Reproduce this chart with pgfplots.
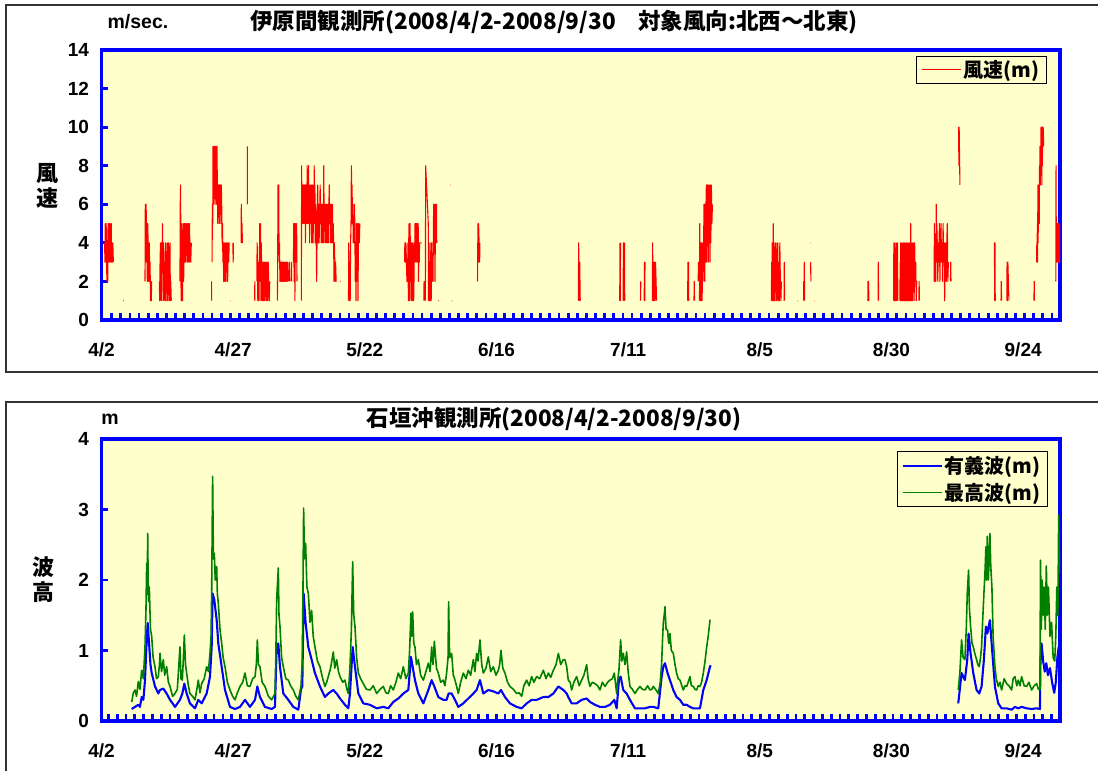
\documentclass[border=0pt]{standalone}
\usepackage{fontspec}
\setmainfont{Liberation Sans}
\newfontfamily\jp{Noto Sans CJK JP}
\usepackage{pgfplots}
\pgfplotsset{compat=1.18}
\definecolor{bgy}{RGB}{255,255,204}
\definecolor{dgreen}{RGB}{0,128,0}
\pgfplotsset{myax/.style={
  scale only axis, width=958.5pt, anchor=south west,
  xmin=0, xmax=182,
  axis background/.style={fill=bgy},
  axis line style={draw=blue, line width=3.5pt},
  tick align=inside, tick pos=left,
  major tick length=7pt,
  tick style={draw=blue, line width=2.8pt},
  xticklabels={},
  extra x ticks={0,25,...,175},
  extra x tick labels={4/2,4/27,5/22,6/16,7/11,8/5,8/30,9/24},
  extra x tick style={major tick length=0pt},
  unbounded coords=jump,
  /pgf/number format/assume math mode=true,
  tick label style={font=\bfseries\fontsize{19}{19}\selectfont},
  xticklabel style={yshift=-19pt},
  yticklabel style={xshift=-9pt},
  legend cell align=left,
}}
\begin{document}
\begin{tikzpicture}[x=1pt,y=1pt]
\useasboundingbox (0,0) rectangle (1098,771);
\begin{scope}
\clip (0,0) rectangle (1098,771);
\draw[line width=1.3pt, black!80] (6,399) rectangle (1120,766);
\draw[line width=1.3pt, black!80] (6,-20) rectangle (1120,369);
\end{scope}

\begin{axis}[myax, at={(101.5pt,451pt)}, height=270pt,
  ymin=0, ymax=14, ytick={0,2,...,14},
  xtick={1.93,3.6635,...,180.6},
  legend image code/.code={\draw[#1] (3pt,0pt) -- (42pt,0pt);},
  legend style={at={(0.9864,0.978)}, anchor=north east, draw=black, line width=0.8pt, fill=bgy,
    font=\jp\bfseries\fontsize{20}{22}\selectfont, inner xsep=5pt, inner ysep=2pt}]
\addlegendimage{draw=red, line width=1.4pt}
\addlegendentry{風速(m)}
\addplot[red, line width=1.1pt, line join=round, forget plot] coordinates {
(0.60,4)(0.65,3)(0.72,5)(0.80,3)(0.88,5)(0.95,4)(1.02,2)(1.10,3)(1.18,2)(1.25,5)(1.32,3)(1.40,5)(1.48,4)(1.55,3)(1.62,5)(1.70,4)(1.78,3)(1.85,5)(1.92,3)(2.00,4)(2.08,3)(2.15,4)(2.25,3)(2.26,nan)
(4.15,1)(4.25,1)(4.26,nan)
(8.26,2)(8.32,6)(8.40,4)(8.48,6)(8.55,3)(8.62,5)(8.70,2)(8.78,5)(8.85,4)(8.92,2)(9.00,3)(9.08,4)(9.15,2)(9.22,3)(9.30,1)(9.38,2)(9.45,1)(9.53,2)(9.54,nan)
(10.98,2)(11.05,1)(11.12,3)(11.20,4)(11.28,2)(11.35,1)(11.42,4)(11.50,3)(11.58,5)(11.65,2)(11.72,1)(11.80,4)(11.88,2)(11.95,3)(12.02,1)(12.10,2)(12.18,4)(12.25,1)(12.32,3)(12.40,2)(12.48,4)(12.55,1)(12.62,2)(12.70,4)(12.78,3)(12.85,1)(12.92,2)(13.00,4)(13.08,1)(13.15,2)(13.25,1)(13.26,nan)
(14.90,2)(14.95,6)(15.02,7)(15.08,2)(15.15,1)(15.22,5)(15.30,2)(15.38,1)(15.45,3)(15.52,5)(15.60,2)(15.68,4)(15.75,5)(15.82,3)(15.90,5)(15.98,4)(16.05,3)(16.12,5)(16.20,4)(16.28,5)(16.35,3)(16.42,4)(16.50,5)(16.58,3)(16.65,4)(16.72,5)(16.80,3)(16.88,4)(16.95,3)(17.05,4)(17.06,nan)
(20.90,1)(20.91,2)(20.92,nan)
(21.00,3)(21.05,6)(21.12,5)(21.18,9)(21.25,6)(21.32,9)(21.40,8)(21.48,9)(21.55,6)(21.62,9)(21.70,7)(21.78,9)(21.85,6)(21.92,9)(22.00,7)(22.08,5)(22.15,7)(22.22,6)(22.30,7)(22.38,5)(22.45,7)(22.52,6)(22.60,7)(22.68,5)(22.75,7)(22.82,6)(22.90,4)(22.98,5)(23.05,3)(23.12,4)(23.20,2)(23.28,4)(23.35,3)(23.42,2)(23.50,4)(23.58,3)(23.65,2)(23.72,4)(23.80,3)(23.88,4)(23.95,2)(24.05,4)(24.15,3)(24.25,4)(24.35,4)(24.36,nan)
(24.40,1)(24.45,1)(24.46,nan)
(24.95,4)(25.00,3)(25.05,4)(25.06,nan)
(26.50,4)(26.55,6)(26.62,4)(26.68,5)(26.75,4)(26.76,nan)
(27.70,9)(27.71,6)(27.72,nan)
(29.10,1)(29.11,2)(29.12,nan)
(29.50,2)(29.55,4)(29.62,3)(29.68,1)(29.75,3)(29.82,2)(29.90,1)(29.98,3)(30.05,5)(30.12,2)(30.20,5)(30.28,1)(30.35,4)(30.42,2)(30.50,3)(30.58,1)(30.65,2)(30.72,3)(30.80,1)(30.88,2)(30.95,3)(31.02,1)(31.10,2)(31.18,3)(31.25,2)(31.32,1)(31.40,3)(31.48,2)(31.55,1)(31.65,3)(31.75,2)(31.85,1)(31.95,2)(31.96,nan)
(33.40,1)(33.45,3)(33.52,7)(33.58,5)(33.65,7)(33.72,3)(33.80,4)(33.88,2)(33.95,3)(34.05,2)(34.15,3)(34.25,2)(34.32,3)(34.40,2)(34.48,3)(34.55,2)(34.62,3)(34.70,2)(34.78,3)(34.85,2)(34.95,3)(35.05,2)(35.15,3)(35.25,2)(35.35,3)(35.45,2)(35.46,nan)
(35.60,2)(35.70,3)(35.80,2)(35.81,nan)
(36.10,2)(36.11,3)(36.12,nan)
(36.45,3)(36.50,5)(36.58,2)(36.65,5)(36.72,1)(36.80,4)(36.88,5)(36.95,3)(37.05,5)(37.12,2)(37.13,nan)
(37.95,1)(38.00,8)(38.05,5)(38.12,7)(38.18,5)(38.25,7)(38.32,5)(38.38,7)(38.45,6)(38.52,7)(38.58,5)(38.65,7)(38.72,4)(38.78,7)(38.85,5)(38.92,7)(38.98,5)(39.05,8)(39.12,5)(39.18,7)(39.25,6)(39.32,8)(39.38,5)(39.45,7)(39.52,4)(39.58,6)(39.65,5)(39.72,7)(39.78,5)(39.85,7)(39.92,4)(39.98,6)(40.05,5)(40.12,7)(40.18,4)(40.25,6)(40.32,5)(40.38,8)(40.45,6)(40.52,7)(40.58,4)(40.65,6)(40.72,5)(40.78,4)(40.85,2)(40.92,4)(40.98,6)(41.05,7)(41.12,5)(41.18,4)(41.25,6)(41.32,4)(41.38,5)(41.45,6)(41.52,7)(41.58,5)(41.65,6)(41.72,4)(41.78,6)(41.85,5)(41.92,6)(41.98,4)(42.05,5)(42.12,4)(42.20,8)(42.28,5)(42.35,6)(42.42,4)(42.50,5)(42.58,6)(42.65,4)(42.72,5)(42.80,6)(42.88,4)(42.95,5)(43.02,6)(43.10,4)(43.18,6)(43.25,7)(43.32,5)(43.40,6)(43.48,4)(43.55,5)(43.62,6)(43.70,4)(43.78,5)(43.85,6)(43.92,4)(44.00,5)(44.08,4)(44.15,2)(44.22,4)(44.30,3)(44.38,2)(44.45,3)(44.55,2)(44.65,2)(44.66,nan)
(45.30,2)(45.40,2)(45.41,nan)
(46.90,1)(46.95,4)(47.02,2)(47.08,1)(47.15,3)(47.22,1)(47.30,4)(47.38,5)(47.45,8)(47.52,6)(47.58,7)(47.65,5)(47.72,6)(47.80,4)(47.88,5)(47.95,4)(48.02,6)(48.10,5)(48.18,2)(48.25,4)(48.32,1)(48.40,5)(48.48,2)(48.55,4)(48.62,5)(48.70,1)(48.78,4)(48.85,5)(48.95,4)(49.05,5)(49.06,nan)
(57.55,3)(57.60,4)(57.70,3)(57.80,4)(57.90,3)(58.00,2)(58.05,3)(58.15,3)(58.20,4)(58.27,1)(58.33,4)(58.40,5)(58.47,1)(58.53,3)(58.60,5)(58.67,2)(58.73,4)(58.80,1)(58.87,3)(58.93,4)(59.00,1)(59.07,2)(59.13,4)(59.20,3)(59.27,1)(59.33,2)(59.40,4)(59.47,3)(59.53,5)(59.60,4)(59.67,5)(59.73,3)(59.80,5)(59.87,4)(59.93,5)(60.00,3)(60.07,4)(60.13,5)(60.20,2)(60.27,4)(60.33,3)(60.40,4)(60.80,4)(60.81,nan)
(61.20,1)(61.25,2)(61.30,1)(61.31,nan)
(61.50,1)(61.55,8)(62.05,5)(62.10,1)(62.15,3)(62.20,1)(62.30,2)(62.37,4)(62.45,1)(62.52,2)(62.60,1)(62.68,4)(62.75,2)(62.85,3)(62.95,2)(63.00,4)(63.07,6)(63.13,5)(63.20,6)(63.27,4)(63.33,2)(63.40,5)(63.47,6)(63.53,4)(63.60,6)(63.65,4)(63.66,nan)
(63.95,1)(64.05,1)(64.06,nan)
(66.20,7)(66.26,7)(66.27,nan)
(66.50,1)(66.56,1)(66.57,nan)
(71.40,2)(71.45,4)(71.50,5)(71.55,3)(71.60,5)(71.70,4)(71.80,3)(71.85,4)(71.86,nan)
(90.55,1)(90.60,4)(90.70,1)(90.80,3)(90.90,1)(90.91,nan)
(98.40,1)(98.45,4)(98.50,1)(98.55,4)(98.56,nan)
(99.05,1)(99.10,4)(99.20,1)(99.30,4)(99.35,1)(99.36,nan)
(102.35,1)(102.40,2)(102.41,nan)
(103.05,1)(103.10,3)(103.15,1)(103.20,3)(103.21,nan)
(104.60,1)(104.65,4)(104.70,1)(104.80,3)(104.90,1)(105.00,3)(105.10,1)(105.20,3)(105.30,2)(105.40,1)(105.41,nan)
(111.30,1)(111.35,3)(111.40,1)(111.45,3)(111.50,1)(111.51,nan)
(112.50,1)(112.55,2)(112.60,1)(112.61,nan)
(113.30,2)(113.35,3)(113.45,2)(113.46,nan)
(113.55,1)(113.60,5)(113.65,1)(113.75,4)(113.82,1)(113.90,4)(113.97,2)(114.05,1)(114.12,4)(114.20,2)(114.30,3)(114.40,6)(114.45,3)(114.50,6)(114.55,2)(114.62,6)(114.70,3)(114.78,6)(114.85,7)(114.90,3)(114.97,7)(115.05,4)(115.12,7)(115.20,3)(115.27,6)(115.35,7)(115.42,4)(115.50,6)(115.55,3)(115.60,7)(115.70,4)(115.80,7)(115.90,5)(116.00,6)(116.01,nan)
(127.20,1)(127.25,3)(127.30,1)(127.35,4)(127.40,1)(127.50,2)(127.55,5)(127.60,1)(127.70,3)(127.75,1)(127.80,2)(127.85,4)(127.90,1)(128.00,3)(128.05,2)(128.10,4)(128.20,1)(128.30,2)(128.40,4)(128.50,1)(128.60,3)(128.70,1)(128.80,4)(128.90,2)(129.00,1)(129.10,2)(129.11,nan)
(129.60,1)(129.65,3)(129.70,1)(129.71,nan)
(132.20,1)(132.26,1)(132.27,nan)
(133.30,1)(133.35,2)(133.40,2)(133.45,3)(133.50,1)(133.51,nan)
(134.55,4)(134.61,4)(134.62,nan)
(134.65,3)(134.70,2)(134.71,nan)
(135.35,1)(135.41,1)(135.42,nan)
(145.50,1)(145.55,2)(145.60,1)(145.65,2)(145.70,1)(145.71,nan)
(147.45,1)(147.50,3)(147.55,1)(147.56,nan)
(150.40,1)(150.45,4)(150.50,2)(150.55,1)(150.60,3)(150.65,1)(150.70,4)(150.75,2)(150.85,1)(150.90,3)(151.00,4)(151.05,1)(151.10,2)(151.15,4)(151.20,1)(151.21,nan)
(151.60,1)(151.65,3)(151.70,1)(151.75,4)(151.80,1)(151.85,3)(151.90,2)(151.95,4)(152.00,1)(152.05,3)(152.10,1)(152.15,2)(152.20,4)(152.25,1)(152.30,3)(152.35,2)(152.40,4)(152.45,1)(152.50,3)(152.55,1)(152.60,4)(152.65,2)(152.70,1)(152.75,3)(152.80,2)(152.85,4)(152.90,1)(152.95,3)(153.00,1)(153.05,4)(153.10,2)(153.15,1)(153.20,3)(153.25,1)(153.30,4)(153.35,2)(153.40,1)(153.45,3)(153.50,2)(153.55,4)(153.60,1)(153.65,5)(153.70,2)(153.75,4)(153.80,1)(153.85,3)(153.90,2)(153.95,4)(154.00,1)(154.05,3)(154.10,2)(154.20,4)(154.30,1)(154.40,4)(154.50,2)(154.60,3)(154.70,1)(154.80,2)(154.81,nan)
(155.20,1)(155.25,2)(155.30,1)(155.31,nan)
(158.10,2)(158.15,5)(158.20,2)(158.30,4)(158.40,2)(158.50,6)(158.55,3)(158.60,5)(158.70,4)(158.80,2)(158.90,4)(159.00,3)(159.10,5)(159.20,2)(159.30,4)(159.40,5)(159.50,3)(159.60,4)(159.70,2)(159.80,5)(159.90,3)(160.00,4)(160.10,1)(160.20,4)(160.30,3)(160.40,2)(160.50,4)(160.60,5)(160.70,2)(160.80,3)(160.81,nan)
(161.20,2)(161.25,3)(161.30,2)(161.31,nan)
(162.75,10)(162.80,8)(162.85,10)(162.90,9)(162.95,8)(163.00,7)(163.01,nan)
(169.50,4)(169.55,4)(169.60,1)(169.65,4)(169.70,1)(169.71,nan)
(170.80,1)(170.85,2)(170.90,1)(170.91,nan)
(171.90,1)(171.95,3)(172.00,1)(172.10,3)(172.20,2)(172.30,1)(172.31,nan)
(177.05,1)(177.10,2)(177.15,1)(177.16,nan)
(177.55,3)(177.60,4)(177.65,3)(177.70,5)(177.75,3)(177.80,7)(177.85,4)(177.90,7)(177.95,5)(178.00,7)(178.05,5)(178.10,8)(178.15,7)(178.20,9)(178.25,7)(178.30,9)(178.35,8)(178.40,10)(178.45,8)(178.50,10)(178.55,7)(178.60,10)(178.65,8)(178.70,10)(178.75,9)(178.80,10)(178.90,9)(178.91,nan)
(181.20,2)(181.25,8)(181.30,3)(181.35,5)(181.40,3)(181.45,5)(181.50,3)(181.55,5)(181.60,4)(181.65,5)(181.70,3)(181.75,5)(181.80,3)(181.85,5)(181.90,3)(181.95,5)
};
\end{axis}

\begin{axis}[myax, at={(101.5pt,50pt)}, height=282pt,
  ymin=0, ymax=4, ytick={0,1,...,4},
  xtick={1.29,2.964,...,181},
  legend image code/.code={\draw[#1] (3pt,0pt) -- (42pt,0pt);},
  legend style={at={(0.9875,0.957)}, anchor=north east, draw=black, line width=0.8pt, fill=bgy,
    font=\jp\bfseries\fontsize{20}{22}\selectfont, inner xsep=5pt, inner ysep=3pt, row sep=4pt}]
\addlegendimage{draw=blue, line width=1.4pt}
\addlegendentry{有義波(m)}
\addlegendimage{draw=dgreen, line width=1.4pt}
\addlegendentry{最高波(m)}
\addplot[blue, line width=2.1pt, line join=round, forget plot] coordinates {
(5.73,0.17)(6.36,0.2)(6.99,0.23)(7.3,0.2)(7.63,0.34)(7.95,0.3)(8.26,0.58)(8.58,1.15)(8.77,1.39)(9.08,1.05)(9.3,0.8)(9.53,0.68)(10.16,0.49)(10.79,0.39)(11.11,0.44)(11.74,0.46)(12.37,0.39)(13.01,0.3)(13.5,0.25)(13.96,0.2)(14.9,0.3)(15.35,0.39)(15.73,0.53)(16.17,0.39)(16.8,0.25)(17.75,0.18)(18.38,0.3)(19.02,0.25)(19.97,0.39)(20.6,0.63)(20.92,1.05)(21.1,1.81)(21.42,1.72)(21.87,1.43)(22.18,1.1)(22.82,0.77)(23.45,0.44)(24.4,0.2)(25.35,0.17)(26.3,0.2)(27.24,0.3)(28.19,0.2)(29.15,0.3)(29.59,0.49)(30.09,0.34)(31.04,0.2)(32.31,0.17)(32.94,0.2)(33.26,1.05)(33.57,1.1)(33.89,0.77)(34.52,0.39)(35.47,0.3)(36.42,0.2)(37.37,0.16)(37.88,0.45)(38.13,0.49)(38.38,1.81)(38.76,1.39)(39.27,1.05)(39.9,0.87)(40.53,0.68)(41.48,0.49)(42.43,0.34)(43.06,0.39)(44.01,0.44)(44.65,0.39)(45.28,0.32)(46.23,0.23)(46.87,0.18)(47.18,0.39)(47.69,1.05)(48.13,0.77)(48.77,0.39)(49.71,0.25)(50.98,0.23)(52.25,0.18)(53.51,0.2)(54.46,0.18)(55.41,0.27)(56.36,0.32)(57.31,0.39)(58.26,0.44)(58.76,0.91)(59.08,0.77)(59.52,0.58)(60.16,0.39)(61.11,0.25)(62.06,0.44)(62.69,0.58)(63.2,0.49)(63.95,0.34)(64.9,0.3)(65.53,0.3)(65.91,0.39)(66.48,0.39)(67.12,0.3)(67.75,0.2)(68.7,0.25)(69.65,0.32)(70.6,0.39)(71.23,0.44)(71.86,0.58)(72.5,0.39)(73.45,0.44)(74.4,0.42)(75.35,0.39)(75.85,0.44)(76.61,0.34)(77.56,0.25)(78.83,0.2)(79.78,0.18)(80.73,0.25)(81.68,0.3)(82.63,0.3)(83.9,0.34)(84.85,0.34)(85.8,0.39)(86.75,0.49)(87.69,0.44)(88.33,0.39)(88.63,0.34)(89.27,0.25)(90.22,0.25)(91.17,0.3)(92.12,0.32)(92.75,0.27)(93.7,0.23)(94.65,0.2)(95.6,0.2)(96.55,0.23)(97.37,0.3)(97.82,0.18)(98.25,0.58)(98.57,0.63)(99.07,0.44)(99.71,0.39)(100.34,0.3)(101.29,0.18)(102.24,0.18)(103.19,0.18)(104.14,0.2)(104.77,0.2)(105.72,0.18)(106.36,0.63)(106.67,0.77)(106.99,0.82)(107.49,0.68)(107.94,0.58)(108.57,0.44)(109.2,0.34)(109.84,0.3)(110.47,0.23)(111.11,0.23)(111.74,0.2)(112.37,0.18)(113.01,0.18)(113.64,0.18)(114.27,0.44)(114.91,0.58)(115.54,0.77)(115.67,0.79)
(115.7,nan)
(162.68,0.25)(163.31,0.68)(163.94,0.58)(164.39,0.87)(164.64,1.24)(165.02,0.96)(165.53,0.68)(166.16,0.44)(166.67,0.39)(167.11,0.49)(167.55,0.87)(167.93,1.34)(168.19,1.24)(168.69,1.43)(169.07,1.05)(169.64,0.49)(170.27,0.25)(170.91,0.18)(171.86,0.18)(172.81,0.16)(173.44,0.2)(174.07,0.18)(174.71,0.2)(175.66,0.18)(176.61,0.17)(177.56,0.18)(178.19,0.17)(178.3,0.9)(178.5,1.1)(178.8,0.85)(179.1,0.7)(179.4,0.82)(179.7,0.65)(180.1,0.75)(180.5,0.55)(180.9,0.4)(181.2,0.55)(181.5,0.9)(181.75,1.05)(182.0,1.0)
};
\addplot[dgreen, line width=1.6pt, line join=round, forget plot] coordinates {
(5.73,0.27)(6.05,0.40)(6.36,0.44)(6.65,0.35)(6.99,0.56)(7.3,0.45)(7.63,0.72)(7.95,0.6)(8.26,1.05)(8.45,1.6)(8.58,2.24)(8.68,1.8)(8.77,2.66)(8.9,1.7)(9.08,1.9)(9.3,1.3)(9.53,1.2)(9.8,0.9)(10.16,0.77)(10.45,0.6)(10.79,0.63)(11.0,0.8)(11.11,0.96)(11.4,0.7)(11.74,0.87)(12.0,0.65)(12.37,0.77)(12.7,0.55)(13.01,0.49)(13.5,0.35)(13.96,0.39)(14.4,0.45)(14.9,1.05)(15.1,0.6)(15.35,0.58)(15.55,0.9)(15.73,1.22)(15.95,0.8)(16.17,0.68)(16.5,0.5)(16.8,0.39)(17.3,0.35)(17.75,0.3)(18.1,0.45)(18.38,0.58)(18.7,0.4)(19.02,0.53)(19.5,0.6)(19.97,0.77)(20.3,0.7)(20.6,0.96)(20.8,1.2)(20.92,1.81)(21.1,3.47)(21.25,2.3)(21.42,2.38)(21.6,2.0)(21.87,2.19)(22.0,1.8)(22.18,1.67)(22.5,1.3)(22.82,1.1)(23.1,0.9)(23.45,0.77)(23.9,0.55)(24.4,0.44)(24.9,0.35)(25.35,0.3)(25.8,0.4)(26.3,0.49)(26.8,0.55)(27.24,0.68)(27.7,0.5)(28.19,0.49)(28.7,0.6)(29.15,0.63)(29.4,0.8)(29.59,1.15)(29.8,0.8)(30.09,0.77)(30.5,0.55)(31.04,0.49)(31.7,0.35)(32.31,0.3)(32.94,0.39)(33.1,0.9)(33.26,1.72)(33.57,2.17)(33.7,1.5)(33.89,1.34)(34.2,0.9)(34.52,0.77)(35.0,0.6)(35.47,0.58)(35.9,0.5)(36.42,0.44)(36.9,0.35)(37.37,0.3)(37.88,0.49)(38.13,0.87)(38.25,1.8)(38.38,3.02)(38.55,2.3)(38.76,2.52)(39.0,1.9)(39.27,1.81)(39.6,1.4)(39.9,1.57)(40.2,1.2)(40.53,1.05)(41.0,0.85)(41.48,0.77)(42.0,0.6)(42.43,0.49)(42.75,0.55)(43.06,0.63)(43.5,0.75)(44.01,0.98)(44.3,0.75)(44.65,0.87)(45.0,0.7)(45.28,0.63)(45.8,0.55)(46.23,0.58)(46.6,0.45)(46.87,0.39)(47.18,0.77)(47.45,1.3)(47.69,2.26)(47.9,1.5)(48.13,1.34)(48.45,0.9)(48.77,0.68)(49.2,0.6)(49.71,0.53)(50.3,0.45)(50.98,0.44)(51.6,0.5)(52.25,0.39)(52.9,0.45)(53.51,0.49)(54.0,0.4)(54.46,0.39)(54.9,0.5)(55.41,0.44)(55.9,0.55)(56.36,0.68)(56.8,0.6)(57.31,0.77)(57.8,0.6)(58.26,0.68)(58.5,1.0)(58.76,1.53)(58.9,1.2)(59.08,1.55)(59.3,1.1)(59.52,1.05)(59.8,0.8)(60.16,0.87)(60.6,0.65)(61.11,0.58)(61.6,0.7)(62.06,0.82)(62.4,0.7)(62.69,1.05)(62.95,0.8)(63.2,1.13)(63.6,0.75)(63.95,0.68)(64.4,0.55)(64.9,0.58)(65.2,0.5)(65.53,0.68)(65.8,0.9)(65.91,1.69)(66.1,0.9)(66.48,0.96)(66.8,0.65)(67.12,0.58)(67.4,0.5)(67.75,0.39)(68.2,0.55)(68.7,0.68)(69.2,0.6)(69.65,0.72)(70.1,0.65)(70.6,0.87)(70.9,0.7)(71.23,0.96)(71.5,0.85)(71.86,1.15)(72.2,0.8)(72.5,0.68)(73.0,0.75)(73.45,0.91)(73.9,0.7)(74.4,0.77)(74.9,0.65)(75.35,0.72)(75.6,0.8)(75.85,1.0)(76.2,0.75)(76.61,0.68)(77.1,0.55)(77.56,0.49)(78.2,0.45)(78.83,0.39)(79.3,0.4)(79.78,0.35)(80.2,0.5)(80.73,0.58)(81.2,0.5)(81.68,0.63)(82.1,0.55)(82.63,0.63)(83.2,0.6)(83.9,0.72)(84.4,0.6)(84.85,0.68)(85.3,0.62)(85.8,0.72)(86.3,0.8)(86.75,0.96)(87.2,0.8)(87.69,0.87)(88.0,0.87)(88.33,0.77)(88.63,0.58)(89.0,0.55)(89.27,0.44)(89.7,0.55)(90.22,0.63)(90.7,0.5)(91.17,0.58)(91.6,0.65)(92.12,0.80)(92.4,0.6)(92.75,0.49)(93.2,0.55)(93.7,0.53)(94.2,0.5)(94.65,0.44)(95.1,0.55)(95.6,0.49)(96.1,0.55)(96.55,0.58)(97.0,0.6)(97.37,0.68)(97.82,0.39)(98.05,0.6)(98.25,0.72)(98.57,1.15)(98.8,0.85)(99.07,0.96)(99.4,0.8)(99.71,0.98)(100.0,0.7)(100.34,0.49)(100.8,0.45)(101.29,0.39)(101.8,0.45)(102.24,0.49)(102.7,0.45)(103.19,0.44)(103.7,0.5)(104.14,0.44)(104.5,0.45)(104.77,0.49)(105.2,0.45)(105.72,0.39)(106.1,0.55)(106.36,0.82)(106.5,1.1)(106.67,1.39)(106.85,1.5)(106.99,1.62)(107.2,1.3)(107.49,1.29)(107.7,1.1)(107.94,1.24)(108.2,1.0)(108.57,0.96)(108.9,0.8)(109.2,0.68)(109.5,0.6)(109.84,0.58)(110.2,0.5)(110.47,0.44)(110.8,0.5)(111.11,0.49)(111.4,0.55)(111.74,0.63)(112.0,0.5)(112.37,0.49)(112.7,0.45)(113.01,0.44)(113.3,0.5)(113.64,0.49)(113.95,0.55)(114.27,0.68)(114.6,0.85)(114.91,1.05)(115.2,1.2)(115.54,1.43)(115.67,1.43)
(115.7,nan)
(162.68,0.44)(163.0,0.7)(163.31,1.15)(163.6,0.9)(163.94,0.87)(164.2,1.3)(164.39,1.81)(164.64,2.14)(164.8,1.6)(165.02,1.34)(165.3,1.1)(165.53,1.05)(165.85,0.95)(166.16,0.87)(166.4,0.8)(166.67,0.77)(166.9,0.9)(167.11,1.05)(167.3,1.4)(167.55,1.81)(167.75,2.1)(167.93,2.47)(168.05,2.0)(168.19,2.62)(168.4,2.0)(168.55,2.3)(168.69,2.66)(168.85,2.2)(169.07,1.9)(169.3,1.2)(169.64,0.77)(169.9,0.6)(170.27,0.49)(170.6,0.55)(170.91,0.44)(171.4,0.6)(171.86,0.53)(172.3,0.5)(172.81,0.44)(173.1,0.6)(173.44,0.63)(173.8,0.5)(174.07,0.58)(174.4,0.5)(174.71,0.63)(175.2,0.5)(175.66,0.49)(176.1,0.55)(176.61,0.44)(177.1,0.5)(177.56,0.53)(177.9,0.45)(178.19,0.44)(178.3,2.28)(178.45,1.3)(178.6,2.0)(178.8,1.5)(179.0,1.9)(179.2,1.3)(179.4,2.2)(179.6,1.5)(179.8,1.9)(180.1,1.2)(180.4,1.4)(180.7,0.9)(181.0,0.85)(181.2,1.2)(181.4,1.9)(181.6,1.5)(181.75,2.92)(181.9,2.2)(182.0,2.1)
};
\end{axis}

\node[font=\jp\bfseries\fontsize{22.5}{24}\selectfont] at (554,749) {伊原間観測所(2008/4/2-2008/9/30　対象風向:北西～北東)};
\node[font=\bfseries\fontsize{19.5}{20}\selectfont] at (138,749) {m/sec.};
\node[font=\jp\bfseries\fontsize{22}{25}\selectfont, align=center] at (47.5,585) {風\\速};
\node[font=\jp\bfseries\fontsize{22.5}{24}\selectfont] at (554,352) {石垣沖観測所(2008/4/2-2008/9/30)};
\node[font=\bfseries\fontsize{19.5}{20}\selectfont] at (110,352) {m};
\node[font=\jp\bfseries\fontsize{22}{25}\selectfont, align=center] at (43,191) {波\\高};
\end{tikzpicture}
\end{document}
